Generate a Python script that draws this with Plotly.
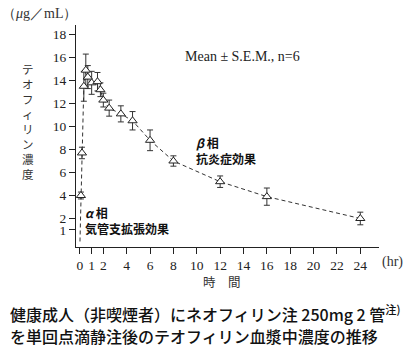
import plotly.graph_objects as go

# Data (hours, µg/mL)
times = [0.08, 0.17, 0.33, 0.5, 0.67, 1.0, 1.5, 1.75, 2.0, 2.5, 3.5, 4.5, 6, 8, 12, 16, 24]
conc = [4.0, 7.7, 13.5, 14.9, 14.3, 13.8, 13.9, 13.2, 12.3, 11.6, 11.1, 10.5, 8.8, 7.0, 5.2, 3.9, 2.0]
sem = [0.3, 0.5, 1.3, 1.4, 1.0, 1.0, 0.8, 0.6, 0.6, 0.7, 0.7, 0.8, 0.9, 0.45, 0.5, 0.75, 0.55]
line_start_t = [0]
line_start_c = [0]

x_ticks = [0, 1, 2, 4, 6, 8, 10, 12, 14, 16, 18, 20, 22, 24]
y_ticks = [1, 2, 4, 6, 8, 10, 12, 14, 16, 18]

SERIF = "Liberation Serif, DejaVu Serif, serif"
JP = "Noto Sans CJK JP"

fig = go.Figure()
fig.add_trace(go.Scatter(
    x=line_start_t + times, y=line_start_c + conc, mode="lines",
    line=dict(color="#333", width=1, dash="4px,3px"), hoverinfo="skip", showlegend=False))
fig.add_trace(go.Scatter(
    x=times, y=conc, mode="markers",
    marker=dict(symbol="triangle-up", size=8, color="white", line=dict(color="#222", width=1)),
    error_y=dict(type="data", array=sem, visible=True, color="#333", thickness=1, width=3),
    showlegend=False))

axis_common = dict(showline=True, linecolor="#222", linewidth=1, ticks="outside", ticklen=6,
                   tickcolor="#222", showgrid=False, zeroline=False,
                   tickfont=dict(family=SERIF, size=13.5, color="#222"))
fig.update_xaxes(range=[-0.34, 25.6], tickvals=x_ticks, **axis_common)
fig.update_yaxes(range=[-0.48, 18.83], tickvals=y_ticks, **axis_common)

anns = [
    dict(x=0, y=13, text="（<i>μ</i>g／mL）", font=dict(family=SERIF, size=14, color="#333"), xanchor="left"),
    dict(x=28, y=121, text="<br>".join("テオフィリン濃度"), font=dict(family=JP, size=11.5, color="#333")),
    dict(x=183, y=57, text="Mean ± S.E.M., n=6", font=dict(family=SERIF, size=14, color="#222"), xanchor="left"),
    dict(x=194, y=142, text="<b><i>β</i> 相</b>", font=dict(family=JP, size=12, color="#111"), xanchor="left"),
    dict(x=194, y=158, text="<b>抗炎症効果</b>", font=dict(family=JP, size=12, color="#111"), xanchor="left"),
    dict(x=83, y=212, text="<b><i>α</i> 相</b>", font=dict(family=JP, size=12, color="#111"), xanchor="left"),
    dict(x=83, y=228, text="<b>気管支拡張効果</b>", font=dict(family=JP, size=12, color="#111"), xanchor="left"),
    dict(x=392, y=262, text="(hr)", font=dict(family=SERIF, size=14, color="#333")),
    dict(x=222, y=281, text="時　間", font=dict(family=JP, size=12.5, color="#333")),
    dict(x=8, y=313, text="健康成人（非喫煙者）にネオフィリン注 250mg 2 管<sup>注)</sup>",
         font=dict(family=JP, size=16, color="#111", weight=500), xanchor="left"),
    dict(x=8, y=336, text="を単回点滴静注後のテオフィリン血漿中濃度の推移",
         font=dict(family=JP, size=16, color="#111", weight=500), xanchor="left"),
]
l, r, t, b = 76, 35, 25, 106
pw, ph = 414 - l - r, 353 - t - b
for a in anns:
    a.update(xref="paper", yref="paper", showarrow=False, yanchor="middle")
    a.setdefault("xanchor", "center")
    # convert pixel positions to paper coordinates
    a["x"] = (a["x"] - l) / pw
    a["y"] = 1 - (a["y"] - t) / ph
fig.update_layout(
    width=414, height=353, margin=dict(l=l, r=r, t=t, b=b),
    paper_bgcolor="white", plot_bgcolor="white", annotations=anns)

fig.write_html("out.html")
